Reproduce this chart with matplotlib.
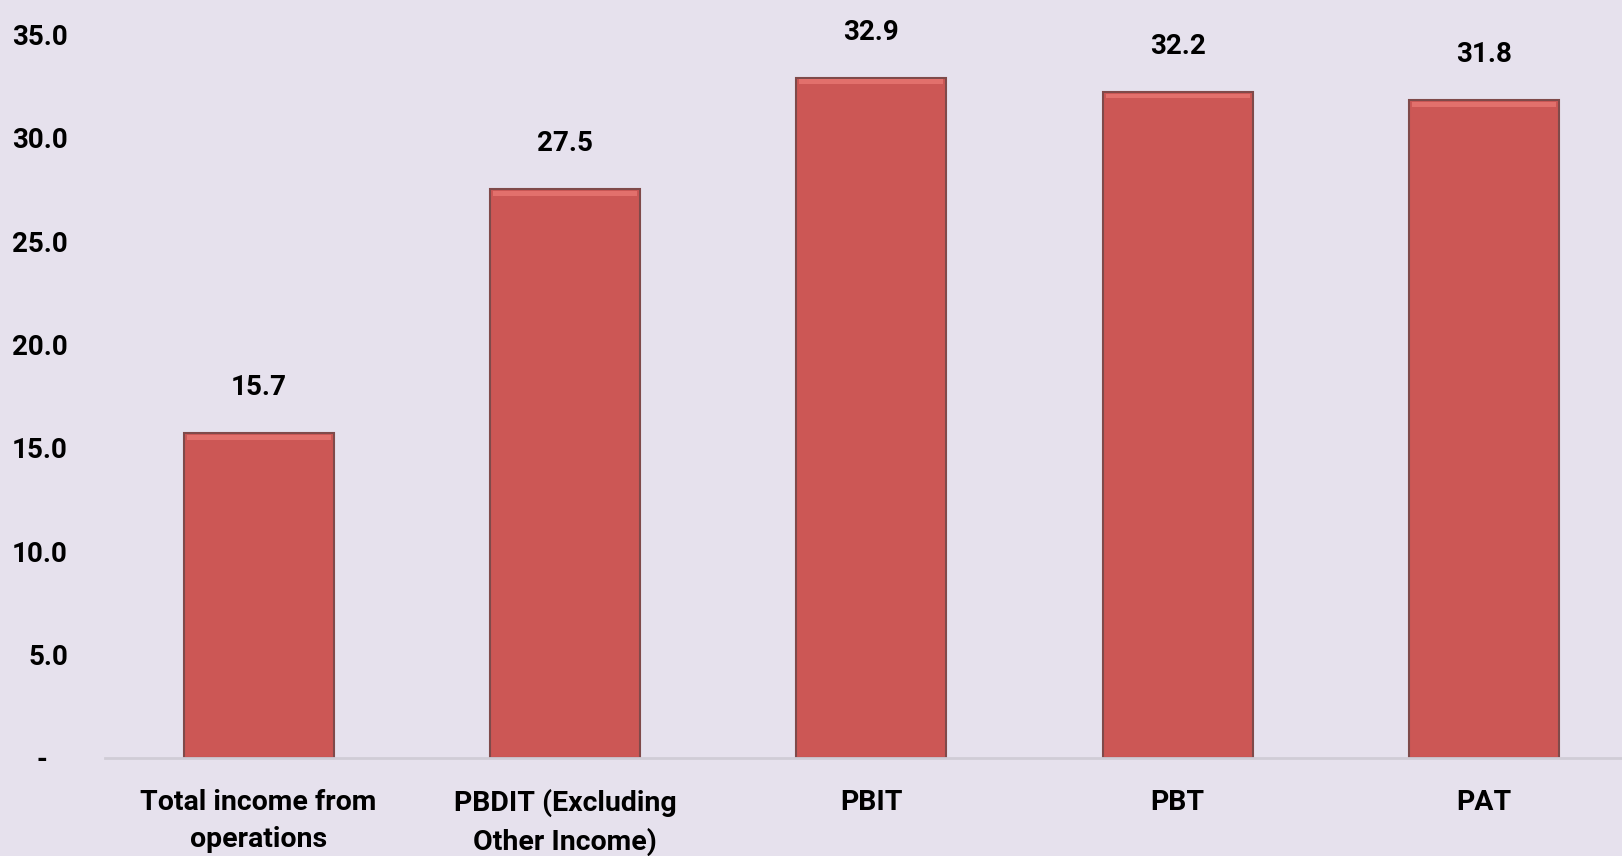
import matplotlib.pyplot as plt

# valeurs
categories = ['Total income from\noperations', 'PBDIT (Excluding\nOther Income)', 'PBIT', 'PBT', 'PAT']
values = [15.7, 27.5, 32.9, 32.2, 31.8]
y_ticks = [0, 5, 10, 15, 20, 25, 30, 35]
y_labels = ['-   ', '5.0', '10.0', '15.0', '20.0', '25.0', '30.0', '35.0']

bg = '#E6E1ED'
bar_color = '#CC5755'

plt.rcParams['font.family'] = ['Roboto', 'DejaVu Sans']
plt.rcParams['font.weight'] = 'bold'

fig = plt.figure(figsize=(16.22, 8.56), dpi=100, facecolor=bg)
ax = fig.add_axes([0.065, 0.1145, 0.935, 0.8455], facecolor=bg)

x = range(len(values))
width = 0.49

# barres avec un léger effet de relief
ax.bar(x, values, width, color=bar_color, edgecolor='#7F4A4A', linewidth=1.5, zorder=2)
ax.bar(x, [0.22] * len(values), width * 0.96, bottom=[v - 0.3 for v in values],
       color='#E2706C', linewidth=0, zorder=3)

for i, v in enumerate(values):
    ax.text(i, v + 2.2, f'{v:.1f}', ha='center', va='center', fontsize=20,
            fontweight='bold', clip_on=False)

ax.set_xlim(-0.5, 4.45)
ax.set_ylim(0, 35)
ax.set_yticks(y_ticks)
ax.set_yticklabels(y_labels)
ax.set_xticks(list(x))
ax.set_xticklabels(categories, linespacing=1.5)

ax.tick_params(axis='y', length=0, pad=27, labelsize=20)
ax.tick_params(axis='x', length=0, pad=22, labelsize=20.5)
for lab in ax.get_xticklabels() + ax.get_yticklabels():
    lab.set_fontweight('bold')

for s in ['top', 'right', 'left']:
    ax.spines[s].set_visible(False)
ax.spines['bottom'].set_color('#D0CCD6')
ax.spines['bottom'].set_linewidth(2)

fig.savefig('out.png', dpi=100, facecolor=bg)
